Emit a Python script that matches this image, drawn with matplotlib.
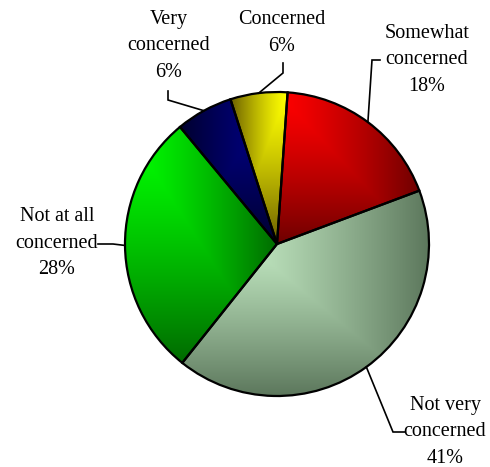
import matplotlib.pyplot as plt
import numpy as np
from matplotlib.colors import to_rgb

labels = ["Somewhat\nconcerned", "Not very\nconcerned", "Not at all\nconcerned",
          "Very\nconcerned", "Concerned"]
shares = [18, 41, 28, 6, 6]

# each slice is shaded from a light corner to a dark one
light = ["#ff0000", "#d6ffd6", "#00ff00", "#000088", "#ffff00"]
dark = ["#6e0000", "#5c775c", "#006a00", "#00002e", "#6a5e00"]
corner = ["left", "left", "left", "right", "right"]

# label block centres and leader-line elbows, in pixels from the top-left
label_pos = [(427, 60), (445, 432), (57, 243), (169, 46), (282, 33)]
elbows = [[(372, 60), (380, 60)],
          [(393, 432), (405, 432)],
          [(113, 244), (98, 244)],
          [(168, 100), (168, 91)],
          [(283, 73), (283, 63)]]

W, H = 490, 467
fig = plt.figure(figsize=(W / 100, H / 100), dpi=100)
ax = fig.add_axes([0, 0, 1, 1])
cx, cy, R = 277, H - 244, 152

wedges, _ = ax.pie(shares, center=(cx, cy), radius=R, startangle=86,
                   counterclock=False,
                   wedgeprops=dict(facecolor="none", edgecolor="black",
                                   linewidth=1.6, zorder=2))

for w, c0, c1, side in zip(wedges, light, dark, corner):
    bb = w.get_path().get_extents()
    gx, gy = np.meshgrid(np.linspace(0, 1, 300), np.linspace(0, 1, 300))
    if side == "right":
        gx = 1 - gx
    t = np.maximum(gx, gy)[..., None] ** 1.3
    img = (1 - t) * np.array(to_rgb(c0)) + t * np.array(to_rgb(c1))
    im = ax.imshow(img, extent=(bb.x0, bb.x1, bb.y0, bb.y1), origin="upper",
                   zorder=1, interpolation="bilinear")
    im.set_clip_path(w)

for w, lab, share, (tx, ty), elb in zip(wedges, labels, shares, label_pos, elbows):
    mid = np.deg2rad((w.theta1 + w.theta2) / 2)
    xs = [cx + R * np.cos(mid)] + [p[0] for p in elb]
    ys = [cy + R * np.sin(mid)] + [H - p[1] for p in elb]
    ax.plot(xs, ys, color="black", lw=1.2, zorder=3, solid_joinstyle="miter")
    ax.text(tx, H - ty, f"{lab}\n{share}%", ha="center", va="center",
            ma="center", fontsize=14.5, family="Liberation Serif",
            linespacing=1.52)

ax.set_xlim(0, W)
ax.set_ylim(0, H)
ax.set_aspect("equal")
ax.axis("off")
fig.savefig("out.png", dpi=100)
